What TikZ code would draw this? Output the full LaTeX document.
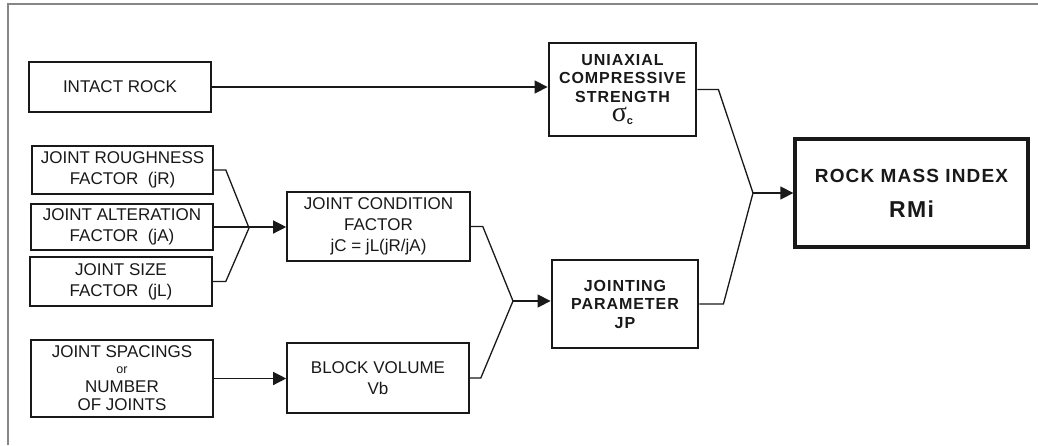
\documentclass[tikz,border=0pt]{standalone}
\usepackage{fontspec}
\setmainfont{Liberation Sans}
\newfontfamily\trk[LetterSpace=6.0]{Liberation Sans}
\newfontfamily\serifsig{Liberation Serif}
\usetikzlibrary{arrows.meta,calc}
\definecolor{ink}{gray}{0.1}
\begin{document}
\begin{tikzpicture}[x=1pt,y=-1pt,
  thinbox/.style={draw=ink, line width=1.6pt, inner sep=0pt, align=center, text=ink,
    font=\fontsize{17}{21}\selectfont},
  keybox/.style={draw=ink, line width=2.8pt, inner sep=0pt, align=center, text=ink,
    font=\trk\bfseries\fontsize{16}{18.5}\selectfont},
  mainbox/.style={draw=ink, line width=3.3pt, inner sep=0pt, align=center, text=ink,
    font=\trk\bfseries\fontsize{19}{35}\selectfont},
  conn/.style={draw=ink, line width=1.3pt},
  arr/.style={conn, -{Triangle[length=13pt,width=13pt]}},
]
\useasboundingbox (0,0) rectangle (1038,445);
\fill[white] (0,0) rectangle (1038,445);
% frame (top and left only)
\draw[gray!95, line width=1.6pt] (8,445) -- (8,4) -- (1038,4);

% input boxes
\node[thinbox, minimum width=182pt, minimum height=50pt] (ir) at (120,87) {INTACT ROCK};
\node[thinbox, minimum width=181pt, minimum height=48pt] (jr) at (122.5,170) {JOINT ROUGHNESS\\FACTOR\ \ (jR)};
\node[thinbox, minimum width=182pt, minimum height=46pt] (ja) at (122,227) {JOINT ALTERATION\\FACTOR\ \ (jA)};
\node[thinbox, minimum width=182pt, minimum height=49pt] (jl) at (121,281.5) {JOINT SIZE\\FACTOR\ \ (jL)};
\node[thinbox, minimum width=182pt, minimum height=77pt] (js) at (122,378.5)
  {JOINT SPACINGS\\[-5pt]{\fontsize{12.5}{12}\selectfont or}\\[-2pt]NUMBER\\[-3pt]OF JOINTS};

% middle boxes
\node[thinbox, minimum width=183pt, minimum height=69pt] (jc) at (378.5,226.5) {JOINT CONDITION\\FACTOR\\jC = jL(jR/jA)};
\node[thinbox, minimum width=182pt, minimum height=70pt] (bv) at (378,378) {BLOCK VOLUME\\Vb};

% key boxes
\node[keybox, minimum width=147pt, minimum height=93pt] (ucs) at (622.5,89.5)
  {UNIAXIAL\\COMPRESSIVE\\STRENGTH\\[1pt]{\serifsig\mdseries\fontsize{28}{18.5}\selectfont σ}\raisebox{-3pt}{\fontsize{11}{10}\selectfont c}};
\node[keybox, minimum width=146pt, minimum height=88pt] (jp) at (625,304) {JOINTING\\PARAMETER\\JP};

% result
\node[mainbox, minimum width=233pt, minimum height=108pt] (rmi) at (911.5,193)
  {ROCK MASS INDEX\\{\fontsize{23}{35}\selectfont RMi}};

% merge points
\coordinate (m1) at (249,228);
\coordinate (m2) at (513,301);
\coordinate (m3) at (753,193);

% connectors
\draw[arr] (ir.east) -- (ir.east -| ucs.west);
\draw[conn] (jr.east) -- ++(12,0) -- (m1);
\draw[conn] (jl.east) -- ++(13,0) -- (m1);
\draw[arr] (ja.east) -- (ja.east -| jc.west);
\draw[arr] (js.east) -- (js.east -| bv.west);
\draw[conn] (jc.east) -- ++(12,0) -- (m2);
\draw[conn] (bv.east) -- ++(11,0) -- (m2);
\draw[arr] (m2) -- (m2 -| jp.west);
\draw[conn] (ucs.east) -- ++(21,0) -- (m3);
\draw[conn] (jp.east) -- ++(24,0) -- (m3);
\draw[arr] (m3) -- (rmi.west);
\end{tikzpicture}
\end{document}
